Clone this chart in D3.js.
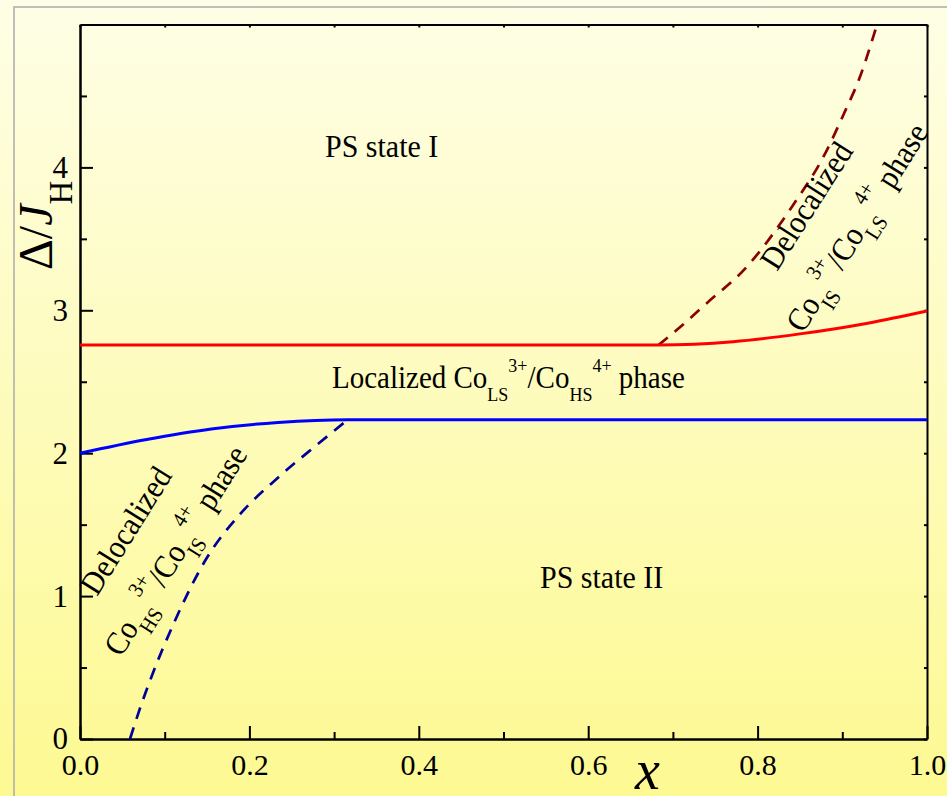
<!DOCTYPE html>
<html lang="en">
	<head>
		<meta charset="utf-8">
		<title>Phase diagram</title>
		<script type="text/javascript" src="https://d3js.org/d3.v7.min.js"></script>
		<style type="text/css">
body{
	margin: 0;
	overflow: hidden;
}
text{
	font-family: "Liberation Serif", "Times New Roman", serif;
	white-space: pre;
}
		</style>
	</head>
	<body>
		<script>
//Data
const xTicks = [0, 0.2, 0.4, 0.6, 0.8, 1.0];
const xMinor = [0.1, 0.3, 0.5, 0.7, 0.9];
const yTicks = [0, 1, 2, 3, 4];
const yMinor = [0.5, 1.5, 2.5, 3.5, 4.5];

//upper boundary (red)
const redSolidX = [0, 0.3, 0.683, 0.771, 0.85, 0.93, 1.0];
const redSolidY = [2.757, 2.757, 2.757, 2.78, 2.835, 2.91, 2.995];
const redDashX = [0.683, 0.71, 0.74, 0.785, 0.84, 0.88, 0.903, 0.92, 0.941];
const redDashY = [2.757, 2.89, 3.05, 3.29, 3.72, 4.1, 4.39, 4.62, 5.0];

//lower boundary (blue)
const blueSolidX = [0, 0.077, 0.155, 0.234, 0.316, 0.6, 1.0];
const blueSolidY = [2.0, 2.094, 2.17, 2.215, 2.234, 2.234, 2.234];
const blueDashX = [0.059, 0.07, 0.086, 0.11, 0.15, 0.19, 0.234, 0.28, 0.316];
const blueDashY = [0, 0.2, 0.46, 0.8, 1.27, 1.58, 1.83, 2.06, 2.234];

//Width and height
const w = 947;
const h = 796;
const plotLeft = 80, plotRight = 927, plotTop = 24.5, plotBottom = 739;

var svg = d3.select("body")
			.append("svg")
			.attr("width", w)
			.attr("height", h);

//background
var grad = svg.append("defs").append("linearGradient")
			.attr("id", "bg")
			.attr("x1", 0).attr("y1", 0).attr("x2", 0).attr("y2", 1);
grad.append("stop").attr("offset", "0%").attr("stop-color", "#fefee6");
grad.append("stop").attr("offset", "100%").attr("stop-color", "#fdf992");

svg.append("rect")
	.attr("width", w)
	.attr("height", h)
	.attr("fill", "url(#bg)");

//grey frame
svg.append("rect")
	.attr("x", 14)
	.attr("y", 7)
	.attr("width", 980)
	.attr("height", 840)
	.attr("fill", "none")
	.attr("stroke", "#aaaaaa")
	.attr("stroke-width", 1.5);

var x = d3.scaleLinear().domain([0, 1]).range([plotLeft, plotRight]);
var y = d3.scaleLinear().domain([0, 5]).range([plotBottom, plotTop]);

//axes
function styleAxis(g) {
	g.attr("font-family", null);
	g.select(".domain").attr("stroke-width", 2);
	g.selectAll(".tick line").attr("stroke-width", 2);
}

svg.append("g")
	.attr("transform", "translate(0," + plotBottom + ")")
	.call(d3.axisBottom(x).tickValues(xMinor).tickSizeInner(-7).tickSizeOuter(0).tickFormat(""))
	.call(styleAxis);

var xAxis = svg.append("g")
	.attr("transform", "translate(0," + plotBottom + ")")
	.call(d3.axisBottom(x).tickValues(xTicks).tickSizeInner(-13).tickSizeOuter(0)
		.tickPadding(15).tickFormat(d3.format(".1f")))
	.call(styleAxis);
xAxis.selectAll("text").attr("font-size", 30).attr("fill", "#000");

svg.append("g")
	.attr("transform", "translate(" + plotLeft + ",0)")
	.call(d3.axisLeft(y).tickValues(yMinor).tickSizeInner(-7).tickSizeOuter(0).tickFormat(""))
	.call(styleAxis);

var yAxis = svg.append("g")
	.attr("transform", "translate(" + plotLeft + ",0)")
	.call(d3.axisLeft(y).tickValues(yTicks).tickSizeInner(-13).tickSizeOuter(0)
		.tickPadding(12).tickFormat(d3.format("d")))
	.call(styleAxis);
yAxis.selectAll("text").attr("font-size", 31).attr("fill", "#000");

svg.append("g")
	.attr("transform", "translate(0," + plotTop + ")")
	.call(d3.axisTop(x).tickValues(xTicks.concat(xMinor)).tickSizeInner(-3).tickSizeOuter(0).tickFormat(""))
	.call(styleAxis);

svg.append("g")
	.attr("transform", "translate(" + plotRight + ",0)")
	.call(d3.axisRight(y).tickValues(yTicks.concat(yMinor)).tickSizeInner(-3).tickSizeOuter(0).tickFormat(""))
	.call(styleAxis);

//curves
var line = d3.line()
			.x(function(d) { return x(d[0]); })
			.y(function(d) { return y(d[1]); })
			.curve(d3.curveMonotoneX);

function drawCurve(xs, ys, color, dash) {
	svg.append("path")
		.datum(d3.zip(xs, ys))
		.attr("d", line)
		.attr("fill", "none")
		.attr("stroke", color)
		.attr("stroke-width", dash ? 2.7 : 3)
		.attr("stroke-dasharray", dash ? "12,9" : null);
}

drawCurve(redDashX, redDashY, "#8b0000", true);
drawCurve(blueDashX, blueDashY, "#000099", true);
drawCurve(redSolidX, redSolidY, "#ff0000", false);
drawCurve(blueSolidX, blueSolidY, "#0000ff", false);

//labels with sub and superscripts
function richText(t, parts, size, small) {
	var shift = 0;
	parts.forEach(function(p) {
		var target = p[1] === "sub" ? 12 : (p[1] === "sup" ? -15 : 0);
		t.append("tspan")
			.attr("dy", target - shift)
			.attr("font-size", p[1] ? small : size)
			.text(p[0]);
		shift = target;
	});
}

function label(px, py, angle, parts, size, small) {
	var t = svg.append("text")
		.attr("transform", "translate(" + px + "," + py + ") rotate(" + angle + ") scale(1,1.08)")
		.attr("fill", "#000");
	richText(t, parts, size, small);
	return t;
}

label(325, 157, 0, [["PS state I"]], 30, 20);
label(540, 588, 0, [["PS state II"]], 30, 20);
label(332, 388, 0, [["Localized Co"], ["LS", "sub"], ["3+", "sup"], ["/Co"], ["HS", "sub"], ["4+", "sup"], [" phase"]], 29, 18);

label(97, 597, -58, [["Delocalized"]], 30, 20);
label(121, 658, -58, [["Co"], ["HS", "sub"], ["3+", "sup"], ["/Co"], ["IS", "sub"], ["4+", "sup"], [" phase"]], 30, 20);

label(777, 272, -57.5, [["Delocalized"]], 30, 20);
label(803, 334, -58, [["Co"], ["IS", "sub"], ["3+", "sup"], ["/Co"], ["LS", "sub"], ["4+", "sup"], [" phase"]], 30, 20);

//axis titles
var yTitle = svg.append("text")
	.attr("transform", "translate(52,270) rotate(-90)")
	.attr("fill", "#000");
yTitle.append("tspan").attr("font-size", 48).text("\u0394/");
yTitle.append("tspan").attr("font-size", 48).attr("font-style", "italic").text("J");
yTitle.append("tspan").attr("font-size", 33).attr("dy", 20).text("H");

svg.append("text")
	.attr("x", 635)
	.attr("y", 789)
	.attr("font-size", 56)
	.attr("font-style", "italic")
	.attr("fill", "#000")
	.text("x");
		</script>
	</body>
</html>
